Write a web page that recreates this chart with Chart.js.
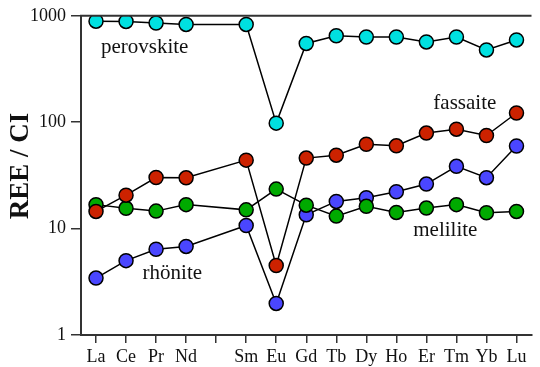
<!DOCTYPE html>
<html>
<head>
<meta charset="utf-8">
<script src="https://cdn.jsdelivr.net/npm/chart.js@4"></script>
<style>
html,body{margin:0;padding:0;background:#fff;}
canvas{display:block;}
</style>
</head>
<body>
<canvas id="c" width="540" height="367"></canvas>
<script>
const categories = ['La','Ce','Pr','Nd','','Sm','Eu','Gd','Tb','Dy','Ho','Er','Tm','Yb','Lu'];
const yTicks = [1, 10, 100, 1000];
const perovskite = [890, 885, 855, 830, null, 830, 98, 550, 650, 632, 632, 568, 632, 478, 593];
const fassaite   = [14.5, 20.6, 30.2, 30, null, 44, 4.5, 46, 49, 62, 60, 79, 86, 75, 122];
const melilite   = [16.8, 15.5, 14.6, 16.8, null, 15, 23.5, 16.6, 13.1, 16.2, 14.2, 15.6, 16.8, 14.1, 14.5];
const rhonite    = [3.43, 5.0, 6.4, 6.8, null, 10.7, 1.98, 13.5, 18, 19.5, 22.2, 26.2, 38.5, 30.1, 59.7];
const seriesLabels = [
  {text:'perovskite', x:1.62, y:500},
  {text:'fassaite',   x:12.28, y:150},
  {text:'melilite',   x:11.63, y:9.6},
  {text:'rhönite',    x:2.54, y:3.8}
];

const serif = "'Liberation Serif','DejaVu Serif',serif";

function ds(label, data, color){
  return {label, data, spanGaps:true, borderColor:'#000', borderWidth:1.5,
    pointBackgroundColor:color, pointBorderColor:'#000', pointBorderWidth:1.5,
    pointRadius:7, pointHoverRadius:7, tension:0, fill:false};
}

const decor = {
  id:'decor',
  afterDatasetsDraw(chart){
    const {ctx, chartArea:a, scales} = chart;
    ctx.save();
    ctx.strokeStyle = '#333';
    ctx.lineWidth = 2;
    ctx.beginPath();
    ctx.moveTo(a.left-1, a.top);
    ctx.lineTo(a.right, a.top);
    ctx.stroke();
    ctx.fillStyle = '#111';
    ctx.font = "21px " + serif;
    ctx.textAlign = 'center';
    ctx.textBaseline = 'middle';
    seriesLabels.forEach(l=>{
      ctx.fillText(l.text, scales.x.getPixelForValue(l.x), scales.y.getPixelForValue(l.y));
    });
    ctx.translate(21, 166);
    ctx.rotate(-Math.PI/2);
    ctx.font = "bold 27px " + serif;
    ctx.fillText('REE / CI', 0, 0);
    ctx.restore();
  }
};

new Chart(document.getElementById('c'), {
  type:'line',
  data:{labels:categories, datasets:[
    ds('fassaite', fassaite, '#CC2200'),
    ds('melilite', melilite, '#00AA00'),
    ds('rhönite', rhonite, '#4A46FF'),
    ds('perovskite', perovskite, '#00E0E0')
  ]},
  options:{
    responsive:false, animation:false,
    layout:{padding:{top:14, right:0, left:0, bottom:0}},
    plugins:{legend:{display:false}, tooltip:{enabled:false}},
    scales:{
      x:{
        type:'category', offset:true,
        grid:{display:true, drawOnChartArea:false, drawTicks:true, tickLength:8, offset:false, color:'#333', lineWidth:1.5},
        border:{display:true, color:'#333', width:2},
        ticks:{color:'#111', font:{family:serif, size:18}, padding:3, maxRotation:0, autoSkip:false},
        afterFit(s){ s.height = 32; }
      },
      y:{
        type:'logarithmic', min:1, max:1000,
        afterBuildTicks(s){ s.ticks = yTicks.map(v=>({value:v})); },
        grid:{display:true, drawOnChartArea:false, drawTicks:true, tickLength:10, color:'#333', lineWidth:1.5},
        border:{display:true, color:'#333', width:2},
        ticks:{color:'#111', font:{family:serif, size:18}, padding:5, callback:(v)=>String(v)},
        afterFit(s){ s.width = 81; }
      }
    }
  },
  plugins:[decor]
});
</script>
</body>
</html>
